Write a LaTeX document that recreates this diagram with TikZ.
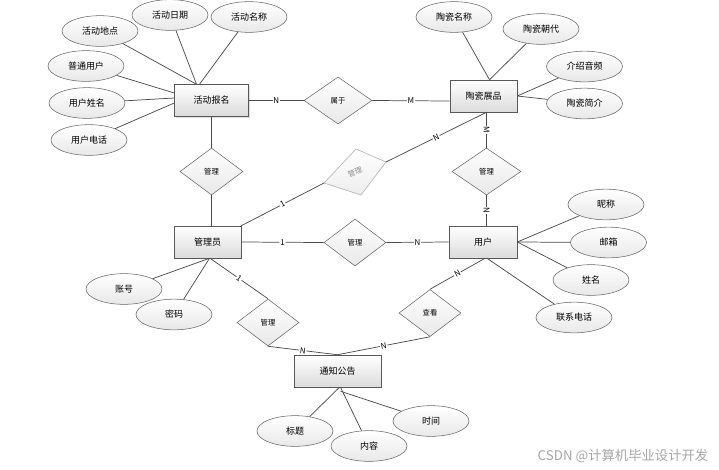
\documentclass[tikz,border=0pt]{standalone}
\usepackage{fontspec}
\setmainfont{Noto Sans CJK SC}
\usetikzlibrary{shapes.geometric,calc,shadows}
\begin{document}
\begin{tikzpicture}[x=0.75pt,y=-0.75pt,
  ent/.style={rectangle, draw=black!65, top color=white, bottom color=black!14,
    minimum width=#1*0.75pt, minimum height=24pt, inner sep=0pt,
    font=\fontsize{6.75}{8}\selectfont,
    drop shadow={shadow xshift=0.8pt,shadow yshift=-0.8pt,opacity=0.25}},
  ent/.default=67,
  attr/.style={ellipse, draw=black!60, top color=white, bottom color=black!9,
    minimum width=57pt, minimum height=23pt, inner sep=0pt,
    font=\fontsize{6.75}{8}\selectfont},
  rel/.style={diamond, draw=black!60, top color=white, bottom color=black!9,
    minimum width=#1*0.75pt, minimum height=35.25pt, inner sep=0pt,
    font=\fontsize{5.5}{6}\selectfont},
  rel/.default=62,
  ln/.style={draw=black!70, line width=0.55pt},
  lbl/.style={fill=white, inner sep=0.6pt, font=\fontsize{6}{7}\selectfont, sloped}
]
\useasboundingbox (0,0) rectangle (719,469);

% entities
\node[ent=74] (hd)  at (211.5,100.5) {活动报名};
\node[ent=67] (zp)  at (483.5,96)    {陶瓷展品};
\node[ent=67] (gly) at (207.5,242)   {管理员};
\node[ent=68] (yh)  at (483,242)     {用户};
\node[ent=87] (tz)  at (337.5,371)   {通知公告};

% relationships
\node[rel=68] (shu) at (338,100.5)   {属于};
\node[rel=63] (dm1) at (211.5,171.5) {管理};
\node[rel=69] (dm3) at (486.5,171.5) {管理};
\node[rel=62] (dm4) at (355,242.5)   {管理};
\node[rel=62] (dm5) at (268,322.5)   {管理};
\node[rel=62] (ck)  at (430,313)     {查看};

% grey skewed relationship
\coordinate (gL) at (324,183);
\coordinate (gT) at (356,149);
\coordinate (gR) at (386,162);
\coordinate (gB) at (361,195);
\draw[draw=black!28, top color=white, bottom color=black!7, line width=0.5pt]
  (gL) -- (gT) -- (gR) -- (gB) -- cycle;
\node[text=black!45, rotate=20, font=\fontsize{5.5}{6}\selectfont] (gm) at (355,172) {管理};

% attributes
\node[attr] (a1) at (100,31)    {活动地点};
\node[attr] (a2) at (170,15)    {活动日期};
\node[attr] (a3) at (249,17)    {活动名称};
\node[attr] (a4) at (86,66)     {普通用户};
\node[attr] (a5) at (87,103)    {用户姓名};
\node[attr] (a6) at (89,140)    {用户电话};
\node[attr] (b1) at (454,17)    {陶瓷名称};
\node[attr] (b2) at (541,29)    {陶瓷朝代};
\node[attr] (b3) at (584.5,66.5) {介绍音频};
\node[attr] (b4) at (584.5,103.5) {陶瓷简介};
\node[attr] (c1) at (606,204.5) {昵称};
\node[attr] (c2) at (608.5,242.5) {邮箱};
\node[attr] (c3) at (591,280)   {姓名};
\node[attr] (c4) at (574,317.5) {联系电话};
\node[attr] (d1) at (124,289)   {账号};
\node[attr] (d2) at (174,314.5) {密码};
\node[attr] (e1) at (295,431)   {标题};
\node[attr] (e2) at (369,446)   {内容};
\node[attr] (e3) at (431,421)   {时间};

% attribute connectors
\draw[ln] (a1) -- ($(hd.north)+(-15,0)$);
\draw[ln] (a2) -- ($(hd.north)+(-15,0)$);
\draw[ln] (a3) -- ($(hd.north)+(-12,0)$);
\draw[ln] (a4) -- ($(hd.west)+(0,-7.5)$);
\draw[ln] (a5) -- ($(hd.west)+(0,-2.5)$);
\draw[ln] (a6) -- ($(hd.west)+(0,2.5)$);
\draw[ln] (b1) -- ($(zp.north)+(6,0)$);
\draw[ln] (b2) -- ($(zp.north)+(6,0)$);
\draw[ln] (b3) -- (zp.east);
\draw[ln] (b4) -- (zp.east);
\draw[ln] (c1) -- (yh.east);
\draw[ln] (c2) -- (yh.east);
\draw[ln] (c3) -- (yh.east);
\draw[ln] (c4) -- ($(yh.south)+(4,0)$);
\draw[ln] (d1) -- ($(gly.south)+(2,0)$);
\draw[ln] (d2) -- ($(gly.south)+(2,0)$);
\draw[ln] (e1) -- ($(tz.south)+(2,0)$);
\draw[ln] (e2) -- ($(tz.south)+(3,0)$);
\draw[ln] (e3) -- ($(tz.south)+(3,4)$);

% relationship connectors
\draw[ln] (hd.east) -- node[lbl] {N} (shu.west);
\draw[ln] (shu.east) -- node[lbl] {M} ($(zp.west)+(0,5)$);
\draw[ln] (hd.south) -- (dm1.north);
\draw[ln] (dm1.south) -- ($(gly.north)+(4,0)$);
\draw[ln] ($(zp.south)+(3,0)$) -- node[lbl] {M} (dm3.north);
\draw[ln] (dm3.south) -- node[lbl] {N} ($(yh.north)+(3.5,0)$);
\draw[ln] (gly.east) -- node[lbl] {1} (dm4.west);
\draw[ln] (dm4.east) -- node[lbl] {N} (yh.west);
\draw[ln] (gly.north east) -- node[lbl] {1} (gL);
\draw[ln] (gR) -- node[lbl] {N} ($(zp.south)+(3,0)$);
\draw[ln] ($(gly.south)+(2.5,0)$) -- node[lbl] {1} (dm5.north);
\draw[ln] (dm5.south) -- node[lbl] {N} (tz.north);
\draw[ln] ($(yh.south)+(2,0)$) -- node[lbl] {N} (ck.north);
\draw[ln] (ck.south) -- node[lbl] {N} (tz.north);

% watermark
\node[text=black!35, font=\fontsize{10}{12}\selectfont] (wm) at (623,456) {CSDN @计算机毕业设计开发};
\end{tikzpicture}
\end{document}
